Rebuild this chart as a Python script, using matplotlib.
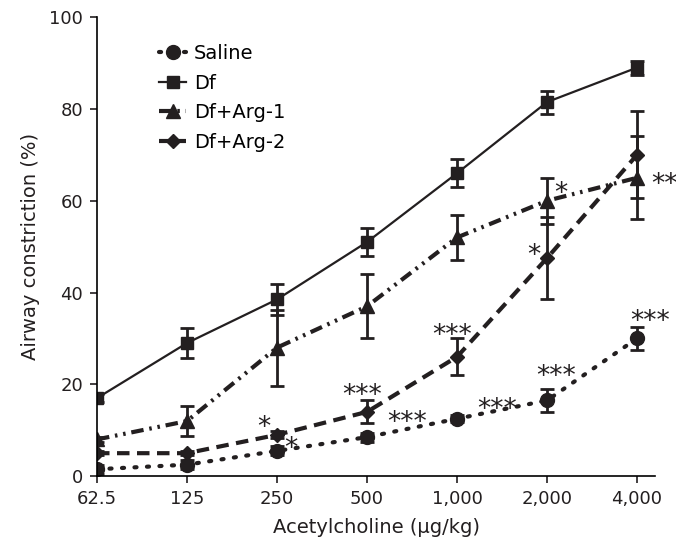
import matplotlib
matplotlib.use("Agg")
import matplotlib.pyplot as plt

plt.rcParams['font.family'] = ['DejaVu Sans']

doses = ['62.5', '125', '250', '500', '1,000', '2,000', '4,000']

saline = [1.5, 2.5, 5.5, 8.5, 12.5, 16.5, 30]
saline_err = [1.0, 1.0, 1.0, 1.0, 0.8, 2.5, 2.5]
df = [17, 29, 38.5, 51, 66, 81.5, 89]
df_err = [0.8, 3.3, 3.3, 3.0, 3.0, 2.5, 1.5]
arg1 = [8, 12, 28, 37, 52, 60, 65]
arg1_err = [0.5, 3.3, 8.3, 7.0, 5.0, 5.0, 9.0]
arg2 = [5, 5, 9, 14, 26, 47.5, 70]
arg2_err = [0.5, 0.5, 0.8, 2.5, 4.0, 9.0, 9.5]

# significance marks: (x index, y value, text)
stars = [(1.85, 10.5, '*'), (2.15, 6.0, '*'),
         (2.95, 17.5, '***'), (3.45, 11.5, '***'),
         (3.95, 30.5, '***'), (4.45, 14.5, '***'),
         (5.1, 21.5, '***'), (5.15, 61.5, '*'), (4.85, 48.0, '*'),
         (6.3, 63.5, '**'), (6.15, 33.5, '***')]

x = list(range(len(doses)))

fig = plt.figure(figsize=(6.76, 5.53), dpi=100)
ax = fig.add_axes([0.1435, 0.139, 0.8255, 0.83])

ekw = dict(ecolor='#231f20', elinewidth=2, capsize=5, capthick=2)
ax.errorbar(x, df, yerr=df_err, color='#231f20', lw=1.6, ls='-', marker='s', ms=9,
            label='Df', **ekw)
ax.errorbar(x, arg1, yerr=arg1_err, color='#231f20', lw=3, ls=(0, (3, 1.4, 0.6, 1.4, 0.6, 1.4)),
            marker='^', ms=10, label='Df+Arg-1', **ekw)
ax.errorbar(x, arg2, yerr=arg2_err, color='#231f20', lw=3, ls=(0, (3, 1.8)),
            marker='D', ms=7, label='Df+Arg-2', **ekw)
ax.errorbar(x, saline, yerr=saline_err, color='#231f20', lw=3, ls=(0, (0.5, 2.5)),
            dash_capstyle='round', marker='o', ms=10, label='Saline', **ekw)

for sx, sy, s in stars:
    ax.text(sx, sy, s, fontsize=19, ha='center', va='center', color='#231f20')

ax.set_xlim(0, 6.2)
ax.set_ylim(0, 100)
ax.set_xticks(x)
ax.set_xticklabels(doses)
ax.set_yticks([0, 20, 40, 60, 80, 100])
ax.tick_params(direction='out', length=5, width=1.2, labelsize=13, colors='#231f20', pad=5)
ax.spines['top'].set_visible(False)
ax.spines['right'].set_visible(False)
ax.spines['left'].set_linewidth(1.2)
ax.spines['bottom'].set_linewidth(1.2)
ax.set_xlabel('Acetylcholine (μg/kg)', fontsize=14, color='#231f20', labelpad=7)
ax.set_ylabel('Airway constriction (%)', fontsize=14, color='#231f20', labelpad=7)

handles, labels = ax.get_legend_handles_labels()
order = [3, 0, 1, 2]
ax.legend([handles[i][0] for i in order], [labels[i] for i in order],
          loc='upper left', bbox_to_anchor=(0.08, 0.98), frameon=False,
          fontsize=14, handlelength=1.4, handletextpad=0.4, labelspacing=0.55)

fig.savefig('out.png', dpi=100)
